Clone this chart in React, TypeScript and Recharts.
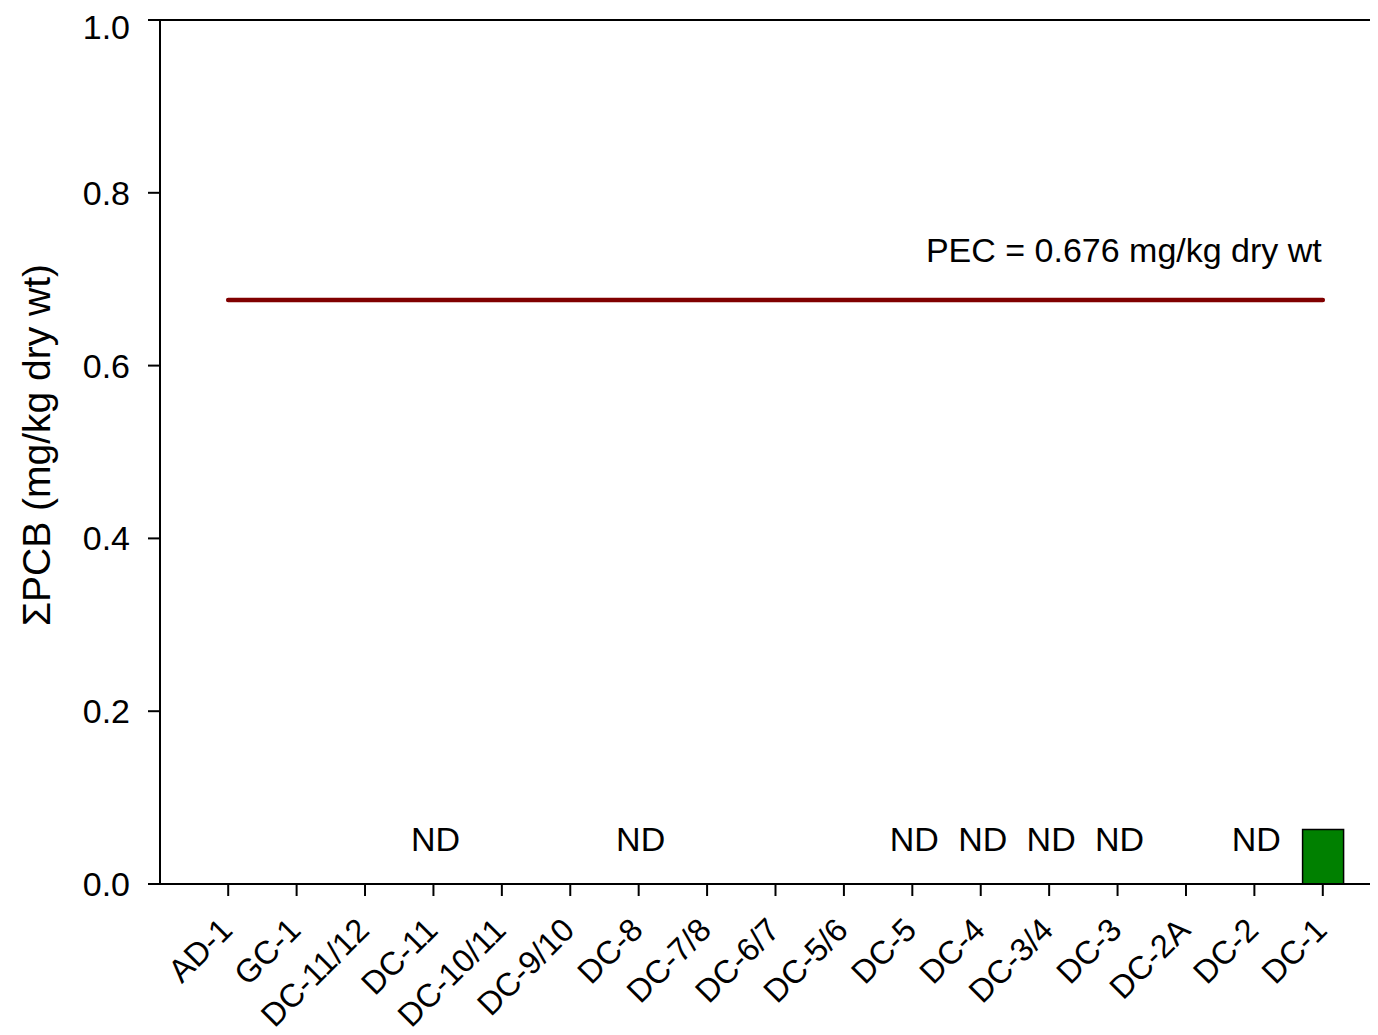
import React from "react";
import {
  ComposedChart,
  Bar,
  Line,
  XAxis,
  YAxis,
  ReferenceLine,
} from "recharts";

const stations = [
  "AD-1",
  "GC-1",
  "DC-11/12",
  "DC-11",
  "DC-10/11",
  "DC-9/10",
  "DC-8",
  "DC-7/8",
  "DC-6/7",
  "DC-5/6",
  "DC-5",
  "DC-4",
  "DC-3/4",
  "DC-3",
  "DC-2A",
  "DC-2",
  "DC-1",
];

// total PCB, mg/kg dry wt (null = no bar)
const pcbValues: (number | null)[] = [
  null, null, null, null, null, null, null, null, null, null, null, null, null, null, null, null, 0.063,
];

// non-detects
const ndFlags: boolean[] = [
  false, false, false, true, false, false, true, false, false, false, true, true, true, true, false, true, false,
];

const PEC = 0.676;
const ND_LABEL_LEVEL = 0.038;
const yTicks = [0, 0.2, 0.4, 0.6, 0.8, 1.0];

const FONT = "'Liberation Sans', Arial, Helvetica, sans-serif";
const FS = 34;

if (typeof document !== "undefined") {
  document.documentElement.style.overflow = "hidden";
  document.body.style.overflow = "hidden";
}

const data = stations.map((s, i) => ({
  station: s,
  pcb: pcbValues[i],
  nd: ndFlags[i] ? ND_LABEL_LEVEL : null,
  pec: PEC,
}));

const XTick = (props: any) => {
  const { x, y, payload } = props;
  return (
    <g transform={`translate(${x + 6},${y + 34})`}>
      <text
        x={0}
        y={0}
        textAnchor="end"
        transform="rotate(-45)"
        fontSize={32.5}
        fontFamily={FONT}
        fill="#000"
      >
        {payload.value}
      </text>
    </g>
  );
};

const YLabel = () => (
  <text
    transform="translate(42,437) rotate(-90)"
    textAnchor="middle"
    fontSize={39}
    fontFamily={FONT}
    fill="#000"
  >
    ΣPCB (mg/kg dry wt)
  </text>
);

const NdDot = (p: any) => {
  if (p.value == null || p.cx == null || p.cy == null) return <g key={p.index} />;
  return (
    <text
      key={p.index}
      x={p.cx + 2}
      y={p.cy}
      textAnchor="middle"
      fontSize={FS}
      fontFamily={FONT}
      fill="#000"
    >
      ND
    </text>
  );
};

const PecDot = (p: any) => {
  if (p.index !== stations.length - 1) return <g key={p.index} />;
  return (
    <text
      key={p.index}
      x={p.cx - 1}
      y={p.cy - 38}
      textAnchor="end"
      fontSize={FS}
      fontFamily={FONT}
      fill="#000"
    >
      PEC = 0.676 mg/kg dry wt
    </text>
  );
};

export default function App() {
  return (
    <div style={{ width: 1370, height: 1027, marginBottom: -8, overflow: "hidden" }}>
      <ComposedChart
        width={1400}
        height={1027}
        data={data}
        margin={{ top: 12, right: 17, bottom: 0, left: 0 }}
      >
        <XAxis
          dataKey="station"
          interval={0}
          height={151}
          padding={{ left: 34, right: 34 }}
          tickSize={12}
          tickLine={{ stroke: "#000", strokeWidth: 2 }}
          axisLine={{ stroke: "#000", strokeWidth: 2 }}
          tick={<XTick />}
        />
        <YAxis
          domain={[0, 1]}
          ticks={yTicks}
          width={152}
          tickSize={12}
          tickMargin={18}
          tickFormatter={(v: number) => v.toFixed(1)}
          tick={{ fontSize: FS, fontFamily: FONT, fill: "#000" }}
          tickLine={{ stroke: "#000", strokeWidth: 2 }}
          axisLine={{ stroke: "#000", strokeWidth: 2 }}
          label={<YLabel />}
        />
        <ReferenceLine y={1} stroke="#000" strokeWidth={2} />
        <Bar
          dataKey="pcb"
          stackId="s"
          barSize={41}
          fill="#008000"
          stroke="#000"
          strokeWidth={1.5}
          isAnimationActive={false}
        />
        <Line
          dataKey="pec"
          stroke="#800000"
          strokeWidth={4.5}
          strokeLinecap="round"
          dot={PecDot}
          activeDot={false}
          isAnimationActive={false}
        />
        <Line
          dataKey="nd"
          stroke="none"
          dot={NdDot}
          activeDot={false}
          isAnimationActive={false}
        />
      </ComposedChart>
    </div>
  );
}
